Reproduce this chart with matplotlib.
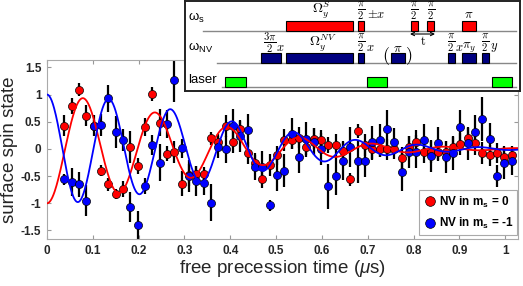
import numpy as np
import matplotlib
matplotlib.use('Agg')
import matplotlib.pyplot as plt
from matplotlib.patches import Rectangle
from matplotlib.lines import Line2D

plt.rcParams['font.family'] = ['Liberation Sans', 'DejaVu Sans']
plt.rcParams['mathtext.fontset'] = 'custom'
plt.rcParams['mathtext.rm'] = 'Liberation Sans'
plt.rcParams['mathtext.it'] = 'Liberation Sans:italic'
plt.rcParams['mathtext.bf'] = 'Liberation Sans:bold'

# ---------------- data ----------------
time_us = [0.038, 0.054, 0.070, 0.086, 0.102, 0.118, 0.134, 0.150, 0.166, 0.182,
           0.198, 0.214, 0.230, 0.246, 0.262, 0.278, 0.294, 0.310, 0.326, 0.342,
           0.358, 0.374, 0.390, 0.406, 0.422, 0.438, 0.454, 0.470, 0.486, 0.502,
           0.518, 0.534, 0.550, 0.566, 0.582, 0.598, 0.614, 0.630, 0.646, 0.662,
           0.678, 0.694, 0.710, 0.726, 0.742, 0.758, 0.774, 0.790, 0.806, 0.822,
           0.838, 0.854, 0.870, 0.886, 0.902, 0.918, 0.934, 0.950, 0.966, 0.982,
           0.998, 1.014]

red_y = [0.43, 0.79, 1.09, 0.61, 0.43, -0.40, -0.65, -0.83, -0.74, 0.04,
         -0.31, 0.40, 1.01, 0.48, -0.09, -0.05, -0.64, -0.48, -0.46, -0.46,
         0.20, 0.13, 0.42, 0.13, 0.36, -0.07, -0.26, -0.56, -0.29, -0.12,
         0.17, 0.17, 0.21, 0.04, 0.19, 0.17, 0.07, 0.07, -0.04, -0.56,
         0.33, 0.07, -0.01, 0.00, -0.01, 0.00, -0.17, 0.03, 0.12, -0.05,
         -0.05, -0.05, -0.05, 0.03, 0.09, 0.21, 0.10, -0.07, -0.12, -0.07,
         -0.14, -0.12]
red_err = [0.20, 0.14, 0.12, 0.19, 0.10, 0.10, 0.12, 0.10, 0.15, 0.29,
           0.15, 0.17, 0.12, 0.25, 0.14, 0.20, 0.23, 0.20, 0.14, 0.12,
           0.12, 0.15, 0.20, 0.20, 0.15, 0.20, 0.15, 0.15, 0.20, 0.18,
           0.20, 0.18, 0.20, 0.18, 0.20, 0.18, 0.15, 0.20, 0.18, 0.12,
           0.12, 0.20, 0.20, 0.15, 0.20, 0.18, 0.20, 0.20, 0.22, 0.20,
           0.20, 0.18, 0.20, 0.20, 0.20, 0.18, 0.22, 0.20, 0.20, 0.18,
           0.18, 0.18]

blue_y = [-0.56, -0.61, -0.65, -0.95, 0.43, 0.44, 0.93, 0.31, 0.16, -1.07,
          -1.40, -0.68, 0.07, -0.25, 0.46, 1.27, 0.01, -0.50, -0.59, -0.63,
          -0.99, 0.03, -0.01, 0.43, 0.24, 0.34, -0.33, -0.33, -1.04, -0.48,
          -0.40, 0.28, -0.14, 0.19, 0.13, 0.00, -0.69, -0.50, -0.23, 0.04,
          -0.23, -0.22, 0.12, 0.16, 0.37, 0.13, -0.42, -0.06, -0.05, 0.16,
          -0.13, 0.10, -0.15, -0.08, 0.41, 0.10, 0.32, 0.55, 0.18, -0.50,
          -0.25, -0.23]
blue_err = [0.10, 0.26, 0.23, 0.29, 0.20, 0.20, 0.25, 0.30, 0.20, 0.28,
            0.25, 0.15, 0.18, 0.34, 0.25, 0.40, 0.18, 0.30, 0.28, 0.21,
            0.34, 0.20, 0.25, 0.30, 0.30, 0.30, 0.25, 0.30, 0.10, 0.30,
            0.30, 0.28, 0.30, 0.30, 0.25, 0.30, 0.41, 0.35, 0.35, 0.37,
            0.40, 0.30, 0.30, 0.30, 0.34, 0.25, 0.35, 0.30, 0.30, 0.30,
            0.30, 0.30, 0.30, 0.30, 0.30, 0.30, 0.30, 0.40, 0.30, 0.20,
            0.30, 0.25]

# fit parameters (damped cosine, stretched-exponential envelope)
red_fit = dict(amp=-1.0, period=0.158, tau=0.42, p=1.6)
blue_fit = dict(amp=1.0, period=0.135, tau=0.496, p=1.9)

series_labels = [r'NV in m$_\mathbf{s}$ = 0', r'NV in m$_\mathbf{s}$ = -1']
xticks = [0, 0.1, 0.2, 0.3, 0.4, 0.5, 0.6, 0.7, 0.8, 0.9, 1]
xtick_labels = ['0', '0.1', '0.2', '0.3', '0.4', '0.5', '0.6', '0.7', '0.8', '0.9', '1']
yticks = [-1.5, -1, -0.5, 0, 0.5, 1, 1.5]
ytick_labels = ['-1.5', '-1', '-0.5', '0', '0.5', '1', '1.5']

# pulse sequence inset (schematic units = pixels of the inset box)
spin_pulses = [(286, 353.3), (358, 364.3), (411, 417.7), (427.3, 434), (462.3, 475.7)]
nv_pulses = [(261, 281), (286, 353.3), (358, 364.3), (391, 405), (448, 455),
             (462.3, 475.7), (482.3, 489)]
laser_pulses = [(225, 245.7), (367, 387), (492.3, 512.3)]

RED = '#ff0000'
BLUE = '#0000ff'

W, H = 523, 286
fig = plt.figure(figsize=(W / 100, H / 100), dpi=100)
ax = fig.add_axes([47 / W, 47 / H, 471 / W, 179.5 / H])

x = np.array(time_us)
ax.errorbar(x, red_y, yerr=red_err, fmt='none', ecolor='k', elinewidth=1.6,
            capsize=0, zorder=2)
ax.errorbar(x, blue_y, yerr=blue_err, fmt='none', ecolor='k', elinewidth=1.6,
            capsize=0, zorder=2)
ax.plot(x, red_y, 'o', ms=5.8, mfc=RED, mec='k', mew=0.5, zorder=3)
ax.plot(x, blue_y, 'o', ms=5.8, mfc=BLUE, mec='k', mew=0.5, zorder=3)

tt = np.linspace(0, 1.03, 800)
for f, c in ((red_fit, RED), (blue_fit, BLUE)):
    yy = f['amp'] * np.cos(2 * np.pi * tt / f['period']) * np.exp(-(tt / f['tau']) ** f['p'])
    ax.plot(tt, yy, '-', color=c, lw=1.3, zorder=4)

ax.set_xlim(0, 1.028)
ax.set_ylim(-1.657, 1.645)
ax.set_xticks(xticks)
ax.set_xticklabels(xtick_labels, fontweight='bold', fontsize=8.5)
ax.set_yticks(yticks)
ax.set_yticklabels(ytick_labels, fontweight='bold', fontsize=8.5)
ax.tick_params(direction='in', length=3, color='#999999', top=True, right=True,
               pad=4, labelcolor='#262626')
for s in ax.spines.values():
    s.set_color('#aaaaaa')
    s.set_linewidth(0.8)
ax.set_xlabel(r'free precession time ($\mu$s)', fontsize=13.5, labelpad=1, color='#262626')
ax.set_ylabel('surface spin state', fontsize=13.5, labelpad=2, color='#262626')

handles = [Line2D([], [], ls='none', marker='o', ms=7, mfc=RED, mec='k', mew=0.5),
           Line2D([], [], ls='none', marker='o', ms=7, mfc=BLUE, mec='k', mew=0.5)]
leg = ax.legend(handles, series_labels, loc='lower right', bbox_to_anchor=(0.998, 0.02),
                prop={'weight': 'bold', 'size': 8.5}, frameon=True, fancybox=False,
                edgecolor='#aaaaaa', framealpha=1, handletextpad=0.1,
                borderpad=0.35, labelspacing=0.55, handlelength=1.2, borderaxespad=0)
leg.get_frame().set_linewidth(0.8)

# ---------------- inset ----------------
ins = fig.add_axes([185 / W, 1 - 91 / H, 335 / W, 90 / H])
ins.set_xlim(185, 520)
ins.set_ylim(91, 1)
ins.set_xticks([])
ins.set_yticks([])
for s in ins.spines.values():
    s.set_color('#222222')
    s.set_linewidth(1.4)

rows = [(203, 30.7, spin_pulses, RED), (217, 62.7, nv_pulses, '#000080'),
        (222, 86.7, laser_pulses, '#00ff00')]
for x0, base, pulses, col in rows:
    ins.plot([x0, 516], [base, base], color='#888888', lw=1.0, zorder=1)
    for a, b in pulses:
        ins.add_patch(Rectangle((a, base - 9.4), b - a, 9.4, facecolor=col,
                                edgecolor='k', lw=0.8, zorder=2))

ins.text(188, 18, r'ω$_\mathregular{s}$', fontsize=9.5, va='center', ha='left')
ins.text(188, 48, r'ω$_\mathregular{NV}$', fontsize=9.5, va='center', ha='left')
ins.text(188, 80, 'laser', fontsize=9.5, va='center', ha='left')

def mt(xp, yp, s, size=8.5):
    t = ins.text(xp, yp, s, fontsize=size, ha='center', va='center')
    t.set_math_fontfamily('cm')
    return t

FR = 11
mt(321.7, 10, r'$\Omega_y^S$', 10)
mt(361, 11, r'$\frac{\pi}{2}$', FR)
mt(376, 15, r'$\pm x$', 9)
mt(414, 11, r'$\frac{\pi}{2}$', FR)
mt(430.7, 11, r'$\frac{\pi}{2}$', FR)
mt(469, 15, r'$\pi$', 9.5)
ins.annotate('', xy=(410, 34), xytext=(435, 34),
             arrowprops=dict(arrowstyle='<->', lw=0.8, color='k', shrinkA=0, shrinkB=0,
                             mutation_scale=6))
mt(422.7, 41.5, r'$\mathrm{t}$', 9)

mt(270, 43, r'$\frac{3\pi}{2}$', FR)
mt(280, 48, r'$x$', 9)
mt(323, 43, r'$\Omega_y^{NV}$', 10)
mt(361, 43, r'$\frac{\pi}{2}$', FR)
mt(370, 48, r'$x$', 9)
mt(386, 56, r'$($', 13)
mt(398, 49, r'$\pi$', 9.5)
mt(409, 56, r'$)$', 13)
mt(451, 43, r'$\frac{\pi}{2}$', FR)
mt(459, 48, r'$x$', 9)
mt(469, 48, r'$\pi_y$', 9.5)
mt(485, 43, r'$\frac{\pi}{2}$', FR)
mt(494, 48, r'$y$', 9)

fig.savefig('out.png', dpi=100)
